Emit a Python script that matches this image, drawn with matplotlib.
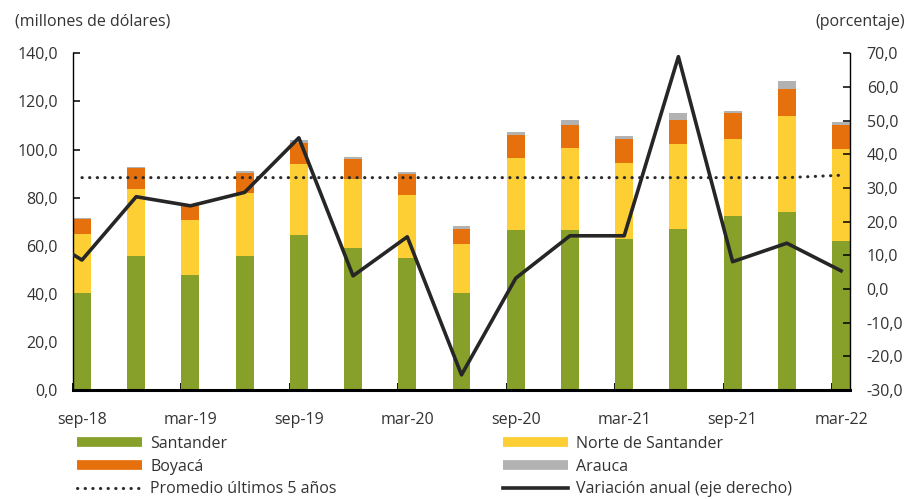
import numpy as np
import matplotlib.pyplot as plt
from matplotlib.lines import Line2D

plt.rcParams['font.family'] = ['Open Sans', 'DejaVu Sans']
plt.rcParams['text.color'] = '#333333'

#quarterly exports by department (millones de dolares)
quarters = ['sep-18', 'dec-18', 'mar-19', 'jun-19', 'sep-19', 'dec-19', 'mar-20', 'jun-20',
            'sep-20', 'dec-20', 'mar-21', 'jun-21', 'sep-21', 'dec-21', 'mar-22']
santander = [40.5, 55.9, 47.8, 55.9, 64.4, 59.0, 54.8, 40.3, 66.5, 66.5, 62.8, 67.1, 72.5, 74.0, 61.8]
norte = [24.4, 27.8, 23.0, 26.0, 29.4, 28.6, 26.1, 20.4, 30.0, 34.3, 31.5, 35.2, 32.0, 40.1, 38.4]
boyaca = [6.1, 8.5, 5.7, 8.2, 9.0, 8.3, 9.0, 6.4, 9.5, 9.5, 10.1, 10.1, 10.7, 11.2, 10.1]
arauca = [0.4, 0.5, 0.6, 0.8, 1.1, 1.1, 0.6, 1.0, 1.1, 2.1, 1.1, 2.8, 0.9, 3.2, 1.1]
promedio = [88.3, 88.3, 88.3, 88.3, 88.3, 88.3, 88.3, 88.3, 88.3, 88.3, 88.3, 88.3, 88.3, 88.3, 89.3]

#annual change (porcentaje), first value is jun-18
var_quarters = ['jun-18'] + quarters
variacion = [18.6, 8.6, 27.4, 24.7, 28.7, 44.9, 3.9, 15.5, -25.5, 3.2, 15.8, 15.8, 69.0, 8.1, 13.6, 5.4]

green = '#87A029'
yellow = '#FDCF35'
orange = '#E5700C'
gray = '#B2B2B2'
dots = (0, (0.1, 2.4))

x = np.arange(len(quarters))
x_var = np.arange(len(var_quarters)) - 1
w = 0.33

fig = plt.figure(figsize=(9.09, 4.99), dpi=100)
ax = fig.add_axes([73/909, 1-390/499, (850-73)/909, (390-53.3)/499])

b1 = np.array(santander)
b2 = b1 + np.array(norte)
b3 = b2 + np.array(boyaca)
ax.bar(x, santander, w, color=green, zorder=2)
ax.bar(x, norte, w, bottom=b1, color=yellow, zorder=2)
ax.bar(x, boyaca, w, bottom=b2, color=orange, zorder=2)
ax.bar(x, arauca, w, bottom=b3, color=gray, zorder=2)
ax.plot(x, promedio, color='#2b2b2b', lw=2.2, linestyle=dots, dash_capstyle='round', zorder=3)

ax.set_ylim(0, 140)
ax.set_yticks(np.arange(0, 141, 20))
ax.set_yticklabels([f'{v:.1f}'.replace('.', ',') for v in np.arange(0, 141, 20)])
ax.set_xlim(-w/2, len(quarters) - 1 + w/2)

#labels every second quarter, small ticks at the bar edges
ax.set_xticks(x[::2])
ax.set_xticklabels(quarters[::2])
ax.set_xticks(x[::2] - w/2, minor=True)
ax.tick_params(axis='x', which='major', length=0, pad=16, labelsize=11.5, colors='#333333')
ax.tick_params(axis='x', which='minor', direction='in', length=5, width=1.3, color='black')
ax.tick_params(axis='y', direction='in', length=5, width=1.1, pad=11, labelsize=11.5, labelcolor='#333333')

ax.spines['top'].set_visible(False)
ax.spines['left'].set_linewidth(1.0)
ax.spines['right'].set_visible(False)
ax.spines['bottom'].set_linewidth(2.2)

ax2 = ax.twinx()
ax2.plot(x_var, variacion, color='#262626', lw=2.6, zorder=4, clip_on=True)
ax2.set_ylim(-30, 70)
ax2.set_yticks(np.arange(-30, 71, 10))
ax2.set_yticklabels([f'{v:.1f}'.replace('.', ',') for v in np.arange(-30, 71, 10)])
ax2.tick_params(axis='y', direction='in', length=5, width=1.1, pad=12, labelsize=11.5, labelcolor='#333333')
ax2.spines['top'].set_visible(False)
ax2.spines['left'].set_visible(False)
ax2.spines['bottom'].set_visible(False)
ax2.spines['right'].set_linewidth(1.0)

fig.text(15/909, 1-22/499, '(millones de dólares)', fontsize=11.5, va='center', ha='left')
fig.text(905/909, 1-22/499, '(porcentaje)', fontsize=11.5, va='center', ha='right')

#legend in two columns
h_left = [Line2D([], [], color=green, lw=7, solid_capstyle='butt'),
          Line2D([], [], color=orange, lw=7, solid_capstyle='butt'),
          Line2D([], [], color='#2b2b2b', lw=2.2, linestyle=dots, dash_capstyle='round')]
h_right = [Line2D([], [], color=yellow, lw=7, solid_capstyle='butt'),
           Line2D([], [], color=gray, lw=7, solid_capstyle='butt'),
           Line2D([], [], color='#262626', lw=2.6)]
leg_kw = dict(frameon=False, fontsize=11.5, handlelength=4.1, handletextpad=0.5,
              labelspacing=0.42, borderpad=0, borderaxespad=0, loc='upper left')
leg1 = fig.legend(h_left, ['Santander', 'Boyacá', 'Promedio últimos 5 años'],
                  bbox_to_anchor=(77/909, 1-436/499), **leg_kw)
leg2 = fig.legend(h_right, ['Norte de Santander', 'Arauca', 'Variación anual (eje derecho)'],
                  bbox_to_anchor=(503/909, 1-436/499), **leg_kw)

fig.savefig('out.png', dpi=100)
